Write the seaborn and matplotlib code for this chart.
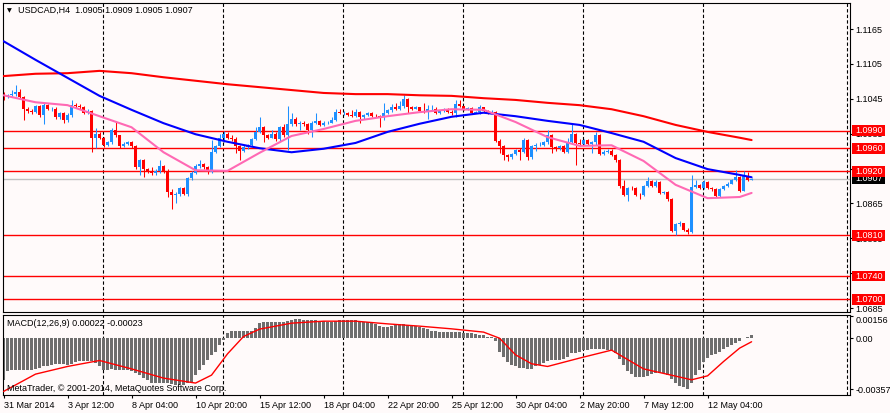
"""
USDCAD H4 chart, MetaTrader look: candles, three moving averages, levels, MACD pane
"""
import matplotlib
matplotlib.use("Agg")
import matplotlib.pyplot as plt
import matplotlib.transforms as mtransforms
from matplotlib.patches import Rectangle
import numpy as np
import seaborn as sns

BG = "#FFFAFA"
BULL = "#1E90FF"
BEAR = "#FF0000"
MA_SLOW_C = "#FF0000"
MA_MID_C = "#0000FF"
MA_FAST_C = "#FF69B4"
HIST_C = "#6E6E6E"
FS = 6.5

# ── candles (pips: 10907 -> 1.0907), open of each bar = previous close ──────
first_open = 11054
closes = [
    11048, 11051, 11054, 11057, 11048, 11028, 11024, 11022, 11032, 11017,
    11034, 11027, 11028, 11014, 11020, 11008, 11017, 11034, 11032, 11031,
    11021, 11024, 10977, 10985, 10978, 10966, 10971, 10991, 10982, 10964,
    10968, 10970, 10964, 10927, 10939, 10925, 10921, 10918, 10921, 10929,
    10921, 10885, 10879, 10882, 10892, 10882, 10908, 10918, 10929, 10933,
    10927, 10919, 10954, 10964, 10977, 10985, 10978, 10975, 10964, 10956,
    10962, 10965, 10975, 10988, 10997, 10982, 10978, 10985, 10975, 10997,
    10982, 11002, 11011, 11001, 11004, 11001, 10992, 11004, 11007, 11000,
    11003, 11004, 11008, 11023, 11020, 11021, 11017, 11015, 11022, 11013,
    11017, 11021, 11016, 11015, 11013, 11021, 11025, 11030, 11028, 11032,
    11045, 11031, 11028, 11030, 11024, 11022, 11027, 11028, 11020, 11024,
    11027, 11023, 11020, 11036, 11032, 11028, 11029, 11021, 11022, 11030,
    11024, 11021, 11023, 10973, 10964, 10948, 10945, 10950, 10957, 10954,
    10974, 10944, 10964, 10965, 10966, 10970, 10982, 10962, 10960, 10964,
    10953, 10971, 10984, 10969, 10968, 10974, 10968, 10970, 10982, 10950,
    10954, 10956, 10948, 10939, 10895, 10879, 10892, 10891, 10880, 10879,
    10895, 10904, 10895, 10902, 10883, 10885, 10872, 10818, 10829, 10831,
    10820, 10816, 10894, 10897, 10892, 10902, 10891, 10889, 10878, 10890,
    10895, 10899, 10905, 10910, 10887, 10912, 10905, 10907,
]
highs = [
    11057, 11054, 11060, 11068, 11061, 11050, 11031, 11027, 11035, 11034,
    11038, 11036, 11031, 11030, 11023, 11022, 11020, 11043, 11038, 11036,
    11033, 11027, 11026, 10994, 10987, 10980, 10973, 10995, 11005, 10983,
    10970, 10972, 10972, 10966, 10941, 10942, 10926, 10928, 10924, 10939,
    10931, 10925, 10889, 10885, 10894, 10894, 10910, 10921, 10932, 10939,
    10935, 10929, 10974, 10966, 10985, 10989, 10987, 10983, 10979, 10966,
    10965, 10968, 10977, 10997, 11013, 10999, 10984, 10991, 10987, 10999,
    11002, 11032, 11020, 11013, 11007, 11006, 11003, 11006, 11020, 11009,
    11006, 11006, 11014, 11027, 11027, 11024, 11023, 11025, 11028, 11024,
    11019, 11023, 11022, 11019, 11017, 11038, 11027, 11036, 11037, 11041,
    11051, 11046, 11033, 11032, 11031, 11037, 11034, 11034, 11030, 11026,
    11029, 11029, 11025, 11043, 11043, 11033, 11031, 11030, 11024, 11034,
    11031, 11025, 11025, 11024, 10975, 10965, 10950, 10952, 10959, 10960,
    10977, 10976, 10966, 10969, 10971, 10973, 10992, 10984, 10964, 10966,
    10965, 10977, 11001, 10986, 10975, 10976, 10975, 10972, 10988, 10984,
    10957, 10958, 10958, 10950, 10942, 10905, 10894, 10895, 10893, 10883,
    10897, 10911, 10906, 10905, 10904, 10887, 10887, 10874, 10831, 10834,
    10832, 10822, 10914, 10905, 10899, 10905, 10904, 10893, 10891, 10892,
    10897, 10901, 10907, 10923, 10912, 10921, 10919, 10909,
]
lows = [
    11043, 11046, 11049, 11050, 11045, 11009, 11020, 11019, 11020, 11013,
    11001, 11025, 11024, 11010, 11011, 11004, 11005, 11014, 11029, 11028,
    11018, 11019, 10954, 10960, 10975, 10962, 10963, 10968, 10979, 10961,
    10962, 10966, 10961, 10924, 10914, 10910, 10918, 10914, 10914, 10918,
    10918, 10876, 10855, 10865, 10877, 10879, 10878, 10906, 10916, 10926,
    10925, 10916, 10917, 10951, 10962, 10971, 10975, 10972, 10952, 10939,
    10953, 10959, 10963, 10974, 10986, 10971, 10975, 10977, 10972, 10972,
    10979, 10957, 10999, 10998, 10991, 10999, 10985, 10980, 11001, 10998,
    10999, 11001, 11003, 11006, 11018, 11017, 11015, 11013, 11013, 11004,
    11011, 11015, 11014, 11013, 10997, 11009, 11018, 11023, 11026, 11026,
    11029, 11020, 11026, 11027, 11022, 11020, 11011, 11025, 11018, 11019,
    11022, 11020, 11017, 11014, 11030, 11026, 11026, 11019, 11020, 11019,
    11022, 11019, 11020, 10971, 10952, 10939, 10938, 10942, 10948, 10939,
    10952, 10939, 10942, 10956, 10963, 10964, 10968, 10951, 10956, 10957,
    10951, 10951, 10969, 10931, 10966, 10966, 10966, 10952, 10966, 10948,
    10948, 10952, 10946, 10937, 10892, 10877, 10870, 10888, 10878, 10872,
    10877, 10893, 10893, 10893, 10881, 10881, 10869, 10815, 10811, 10826,
    10818, 10812, 10814, 10891, 10889, 10890, 10889, 10886, 10876, 10876,
    10888, 10893, 10898, 10904, 10885, 10886, 10903, 10905,
]

# ── moving averages, read every 8 bars ───────────────────────────────────────
ma_idx = [0, 8, 16, 24, 32, 40, 48, 56, 64, 72, 80, 88, 96, 104, 112, 120,
          128, 136, 144, 152, 160, 168, 176, 184, 187]
ma_slow = [1.1084, 1.1088, 1.1089, 1.1093, 1.1089, 1.1082, 1.1076, 1.1070,
           1.1065, 1.1060, 1.1055, 1.1053, 1.1053, 1.1051, 1.1050, 1.1046,
           1.1043, 1.1038, 1.1034, 1.1027, 1.1015, 1.1000, 1.0988, 1.0978, 1.0974]
ma_mid = [1.1144, 1.1112, 1.1081, 1.1050, 1.1026, 1.1003, 1.0984, 1.0971,
          1.0960, 1.0953, 1.0959, 1.0969, 1.0988, 1.1002, 1.1014, 1.1021,
          1.1015, 1.1007, 1.1000, 1.0986, 1.0971, 1.0943, 1.0924, 1.0914, 1.0910]
ma_fast = [1.1051, 1.1039, 1.1034, 1.1015, 1.0996, 1.0953, 1.0922, 1.0921,
           1.0952, 1.0981, 1.0993, 1.1007, 1.1015, 1.1022, 1.1027, 1.1026,
           1.1005, 1.0979, 1.0964, 1.0965, 1.0938, 1.0897, 1.0874, 1.0876, 1.0883]

# ── MACD(12,26,9) ────────────────────────────────────────────────────────────
macd_hist = [
    -0.00291, -0.00232, -0.00221, -0.00221, -0.00225, -0.00225, -0.00225, -0.00221, -0.00216, -0.00209,
    -0.00197, -0.00192, -0.00185, -0.00181, -0.00178, -0.00178, -0.00185, -0.00178, -0.00169, -0.00162,
    -0.00155, -0.00155, -0.00162, -0.00174, -0.00197, -0.00221, -0.00221, -0.00216, -0.00221, -0.00225,
    -0.00225, -0.00225, -0.00232, -0.00244, -0.00256, -0.00279, -0.00291, -0.00310, -0.00314, -0.00314,
    -0.00310, -0.00314, -0.00319, -0.00326, -0.00326, -0.00326, -0.00314, -0.00303, -0.00256, -0.00221,
    -0.00185, -0.00150, -0.00115, -0.00092, -0.00045, -0.00009, 0.00038, 0.00054, 0.00054, 0.00054,
    0.00054, 0.00054, 0.00054, 0.00073, 0.00108, 0.00113, 0.00113, 0.00113, 0.00113, 0.00113,
    0.00113, 0.00120, 0.00131, 0.00136, 0.00136, 0.00127, 0.00127, 0.00127, 0.00127, 0.00120,
    0.00120, 0.00113, 0.00113, 0.00120, 0.00127, 0.00127, 0.00127, 0.00127, 0.00127, 0.00120,
    0.00113, 0.00113, 0.00108, 0.00103, 0.00089, 0.00080, 0.00084, 0.00089, 0.00096, 0.00103,
    0.00103, 0.00096, 0.00089, 0.00089, 0.00080, 0.00073, 0.00066, 0.00056, 0.00056, 0.00049,
    0.00049, 0.00049, 0.00049, 0.00049, 0.00049, 0.00042, 0.00038, 0.00038, 0.00031, 0.00026,
    0.00026, 0.00014, 0.00009, -0.00021, -0.00092, -0.00131, -0.00167, -0.00190, -0.00197, -0.00209,
    -0.00209, -0.00214, -0.00214, -0.00197, -0.00185, -0.00174, -0.00162, -0.00150, -0.00150, -0.00150,
    -0.00146, -0.00131, -0.00103, -0.00099, -0.00092, -0.00084, -0.00080, -0.00075, -0.00075, -0.00075,
    -0.00075, -0.00080, -0.00080, -0.00103, -0.00146, -0.00185, -0.00228, -0.00249, -0.00272, -0.00272,
    -0.00268, -0.00263, -0.00249, -0.00244, -0.00244, -0.00244, -0.00256, -0.00286, -0.00310, -0.00333,
    -0.00343, -0.00357, -0.00314, -0.00256, -0.00221, -0.00169, -0.00138, -0.00115, -0.00108, -0.00092,
    -0.00075, -0.00061, -0.00045, -0.00033, -0.00016, 0.00002, 0.00010, 0.00022,
]
signal_idx = [0, 8, 16, 24, 32, 40, 48, 52, 56, 60, 64, 72, 80, 88, 96, 104,
              112, 120, 124, 128, 132, 136, 144, 152, 160, 168, 172, 176, 180, 184, 187]
signal_vals = [-0.00373, -0.00251, -0.00197, -0.00155, -0.00214, -0.00279, -0.00314,
               -0.00258, -0.00108, 0.00014, 0.00066, 0.00108, 0.00122, 0.00122,
               0.00103, 0.00087, 0.00068, 0.00045, 0.00002, -0.00115, -0.00178,
               -0.00197, -0.00138, -0.00082, -0.00214, -0.00265, -0.00291, -0.00263,
               -0.00162, -0.00068, -0.00023]

level_prices = [1.0990, 1.0960, 1.0920, 1.0810, 1.0740, 1.0700]
bid_price = 1.0907
price_ticks = [1.0685, 1.0745, 1.0805, 1.0865, 1.0925, 1.0985, 1.1045, 1.1105, 1.1165]
macd_ticks = [0.00156, 0.0, -0.00357]
macd_tick_labels = ["0.00156", "0.00", "-0.00357"]
time_labels = ["31 Mar 2014", "3 Apr 12:00", "8 Apr 04:00", "10 Apr 20:00",
               "15 Apr 12:00", "18 Apr 04:00", "22 Apr 20:00", "25 Apr 12:00",
               "30 Apr 04:00", "2 May 20:00", "7 May 12:00", "12 May 04:00"]
header = "USDCAD,H4  1.0905 1.0909 1.0905 1.0907"
macd_header = "MACD(12,26,9) 0.00022 -0.00023"
copyright_txt = "MetaTrader, \u00a9 2001-2014, MetaQuotes Software Corp."

sns.set_theme(style="white", rc={
    "figure.facecolor": BG, "axes.facecolor": BG, "savefig.facecolor": BG,
    "axes.edgecolor": "black", "text.color": "black",
    "xtick.color": "black", "ytick.color": "black",
})
plt.rcParams["font.family"] = ["Liberation Sans", "DejaVu Sans"]

W, H = 890, 413
fig = plt.figure(figsize=(W / 100, H / 100), dpi=100)
ax = fig.add_axes([2.5 / W, (H - 312) / H, 847.5 / W, 309.5 / H])
ax2 = fig.add_axes([2.5 / W, (H - 395) / H, 847.5 / W, 80.5 / H])

XLIM = (-0.25, 211.6)

# candles
c = np.array(closes) / 1e4
o = np.array([first_open] + closes[:-1]) / 1e4
hi = np.array(highs) / 1e4
lo = np.array(lows) / 1e4
x = np.arange(len(c))
cols = np.where(c >= o, BULL, BEAR)
ax.vlines(x, lo, hi, colors=cols, lw=0.75, zorder=2)
ax.bar(x, np.maximum(np.abs(c - o), 0.00003), bottom=np.minimum(o, c),
       width=0.75, color=cols, linewidth=0, zorder=2)

# moving averages
for vals, colr in [(ma_slow, MA_SLOW_C), (ma_mid, MA_MID_C), (ma_fast, MA_FAST_C)]:
    sns.lineplot(x=ma_idx, y=vals, color=colr, lw=1.5, ax=ax, zorder=3)

# horizontal levels and bid line
for p in level_prices:
    ax.axhline(p, color="red", lw=1, zorder=1)
ax.axhline(bid_price, color="#C0C0C0", lw=1, zorder=1)

# dashed vertical grid every 30 bars + chart shift marker
grid_x = list(np.arange(24.95, 200, 30)) + [210.95]
for a in (ax, ax2):
    for gx in grid_x:
        a.axvline(gx, color="black", lw=0.8, ls=(0, (3, 2)), zorder=0.5)

ax.set_xlim(*XLIM)
ax.set_ylim(1.06782, 1.12106)
ax.set_xlabel("")
ax.set_ylabel("")
ax.set_xticks([])
ax.yaxis.tick_right()
ax.set_yticks(price_ticks)
ax.set_yticklabels([f"{v:.4f}" for v in price_ticks])
ax.tick_params(axis="y", direction="out", length=2.5, width=0.8, pad=1.5,
               labelsize=FS, colors="black", right=True, left=False)

# price tags on the right (bid tag first so the red tags sit on top)
trans = mtransforms.blended_transform_factory(ax.transAxes, ax.transData)
box_w = 33 / 847.5
box_h = 0.00092
tags = [(bid_price, "black")] + [(v, "#FF0000") for v in level_prices]
for k, (p, fc) in enumerate(tags):
    ax.add_patch(Rectangle((1.0024, p - box_h), box_w, 2 * box_h, transform=trans,
                           facecolor=fc, edgecolor="none", clip_on=False, zorder=9 + 0.1 * k))
    ax.text(1.0068, p, f"{p:.4f}", transform=trans, color="white", fontsize=FS,
            va="center", ha="left", clip_on=False, zorder=9.05 + 0.1 * k)

# MACD pane
ax2.bar(x, macd_hist, width=0.75, color=HIST_C, linewidth=0, zorder=1)
sns.lineplot(x=signal_idx, y=signal_vals, color="red", lw=1, ax=ax2, zorder=3)
ax2.set_xlim(*XLIM)
ax2.set_ylim(-0.00398, 0.00169)
ax2.set_xlabel("")
ax2.set_ylabel("")
ax2.yaxis.tick_right()
ax2.set_yticks(macd_ticks)
ax2.set_yticklabels(macd_tick_labels)
ax2.tick_params(axis="y", direction="out", length=2.5, width=0.8, pad=1.5,
                labelsize=FS, colors="black", right=True, left=False)
ax2.get_yticklabels()[0].set_va("top")
ax2.set_xticks(np.arange(0, 16 * len(time_labels), 16))
ax2.set_xticklabels(time_labels)
for t in ax2.get_xticklabels():
    t.set_ha("left")
ax2.tick_params(axis="x", direction="out", length=2, width=0.8, pad=2,
                labelsize=FS, colors="black", bottom=True)

for a in (ax, ax2):
    for s in a.spines.values():
        s.set_color("black")
        s.set_linewidth(0.8)
        s.set_visible(True)

# header texts
fig.text(7 / W, 1 - 10.5 / H, "\u25bc", fontsize=4.5, va="center", ha="left",
         family=["DejaVu Sans"])
fig.text(18 / W, 1 - 10.7 / H, header, fontsize=FS, va="center", ha="left")
fig.text(7 / W, 1 - 324 / H, macd_header, fontsize=FS, va="center", ha="left")
fig.text(7 / W, 1 - 388.3 / H, copyright_txt, fontsize=FS, va="center", ha="left")

fig.savefig("out.png", dpi=100, facecolor=BG)
